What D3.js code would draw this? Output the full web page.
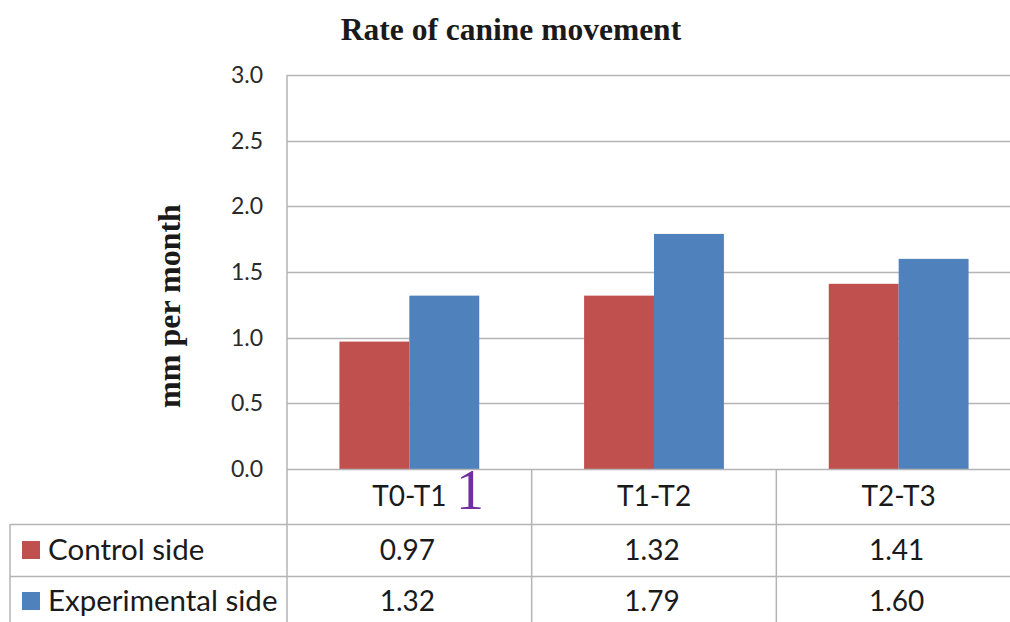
<!DOCTYPE html>
<html>
<head>
<meta charset="utf-8">
<script src="https://cdn.jsdelivr.net/npm/d3@7"></script>
<style>
  body { margin: 0; background: #fff; }
  svg { display: block; }
</style>
</head>
<body>
<svg id="chart" width="1010" height="622"></svg>
<script>
// Rate of canine movement (mm per month), control vs experimental side
const categories = ["T0-T1", "T1-T2", "T2-T3"];
const seriesNames = ["Control side", "Experimental side"];
const controlValues = [0.97, 1.32, 1.41];
const experimentalValues = [1.32, 1.79, 1.60];
const yTicks = [0, 0.5, 1.0, 1.5, 2.0, 2.5, 3.0];
const seriesColors = ["#C0504D", "#4F81BD"];

const series = [controlValues, experimentalValues];

const W = 1010, H = 622;
const plot = { left: 287, right: 1021, top: 75, bottom: 469 };
const table = { left: 10, header: 469, row1: 524, row2: 576, bottom: H };

const sansFont = "Lato, 'Open Sans', sans-serif";
const serifFont = "'Liberation Serif', 'DejaVu Serif', serif";
const gridColor = "#b4b4b4";
const textColor = "#1a1a1a";

const svg = d3.select("#chart");

const x = d3.scaleBand().domain(categories).range([plot.left, plot.right]);
const xInner = d3.scaleBand()
  .domain(seriesNames)
  .range([0, x.bandwidth()])
  .paddingInner(0)
  .paddingOuter(0.75);
const y = d3.scaleLinear().domain([0, 3]).range([plot.bottom, plot.top]);

// Title
svg.append("text")
  .attr("x", 511).attr("y", 40)
  .attr("text-anchor", "middle")
  .attr("font-family", serifFont)
  .attr("font-weight", "bold")
  .attr("font-size", 31.5)
  .attr("fill", textColor)
  .text("Rate of canine movement");

// Horizontal gridlines
svg.append("g")
  .selectAll("line")
  .data(yTicks.filter(d => d > 0))
  .join("line")
  .attr("x1", plot.left).attr("x2", W)
  .attr("y1", d => Math.round(y(d)) + 0.5)
  .attr("y2", d => Math.round(y(d)) + 0.5)
  .attr("stroke", gridColor)
  .attr("stroke-width", 1.5);

// Y axis with tick labels
const yAxis = d3.axisLeft(y)
  .tickValues(yTicks)
  .tickFormat(d3.format(".1f"))
  .tickSize(0)
  .tickPadding(24);

const yAxisG = svg.append("g")
  .attr("transform", `translate(${plot.left},0)`)
  .call(yAxis);
yAxisG.select(".domain").remove();
yAxisG.selectAll("text")
  .attr("font-family", sansFont)
  .attr("font-size", 23)
  .attr("fill", "#2a2a2a");

// Y axis title
svg.append("text")
  .attr("transform", "translate(180,306) rotate(-90)")
  .attr("text-anchor", "middle")
  .attr("font-family", serifFont)
  .attr("font-weight", "bold")
  .attr("font-size", 32)
  .attr("fill", textColor)
  .text("mm per month");

// Bars
const groups = svg.append("g")
  .selectAll("g")
  .data(categories)
  .join("g")
  .attr("transform", d => `translate(${x(d)},0)`);

groups.selectAll("rect")
  .data((d, i) => seriesNames.map((s, k) => ({ s, k, v: series[k][i] })))
  .join("rect")
  .attr("x", d => xInner(d.s))
  .attr("width", xInner.bandwidth())
  .attr("y", d => y(d.v))
  .attr("height", d => y(0) - y(d.v))
  .attr("fill", d => seriesColors[d.k]);

// Data table lines
const lines = svg.append("g")
  .attr("stroke", gridColor)
  .attr("stroke-width", 1.5)
  .attr("fill", "none");

// left value axis line continuing down through the table
lines.append("line")
  .attr("x1", plot.left).attr("x2", plot.left)
  .attr("y1", plot.top).attr("y2", table.bottom);
// table top / category row
lines.append("line")
  .attr("x1", plot.left).attr("x2", W)
  .attr("y1", table.header + 0.5).attr("y2", table.header + 0.5);
[table.row1, table.row2].forEach(yy => {
  lines.append("line")
    .attr("x1", table.left).attr("x2", W)
    .attr("y1", yy + 0.5).attr("y2", yy + 0.5);
});
lines.append("line")
  .attr("x1", table.left).attr("x2", table.left)
  .attr("y1", table.row1).attr("y2", table.bottom);
categories.slice(1).forEach(c => {
  lines.append("line")
    .attr("x1", x(c)).attr("x2", x(c))
    .attr("y1", table.header).attr("y2", table.bottom);
});

// Category header labels
svg.append("g")
  .selectAll("text")
  .data(categories)
  .join("text")
  .attr("x", d => x(d) + x.bandwidth() / 2)
  .attr("y", (table.header + table.row1) / 2)
  .attr("dy", "0.35em")
  .attr("text-anchor", "middle")
  .attr("font-family", sansFont)
  .attr("font-size", 28)
  .attr("fill", textColor)
  .text(d => d);

// Table rows: legend key + values
const rowCenters = [(table.row1 + table.row2) / 2, (table.row2 + table.bottom) / 2 + 2];
seriesNames.forEach((name, k) => {
  const cy = rowCenters[k];
  svg.append("rect")
    .attr("x", 22).attr("y", cy - 9)
    .attr("width", 18).attr("height", 18)
    .attr("fill", seriesColors[k]);
  svg.append("text")
    .attr("x", 48).attr("y", cy)
    .attr("dy", "0.35em")
    .attr("font-family", sansFont)
    .attr("font-size", 29.5)
    .attr("fill", textColor)
    .text(name);
  svg.append("g")
    .selectAll("text")
    .data(categories)
    .join("text")
    .attr("x", d => x(d) + x.bandwidth() / 2 - 2)
    .attr("y", cy)
    .attr("dy", "0.35em")
    .attr("text-anchor", "middle")
    .attr("font-family", sansFont)
    .attr("font-size", 28)
    .attr("fill", textColor)
    .text((d, i) => series[k][i].toFixed(2));
});

// Figure panel mark
svg.append("text")
  .attr("x", 470).attr("y", 509)
  .attr("text-anchor", "middle")
  .attr("font-family", serifFont)
  .attr("font-size", 56)
  .attr("fill", "#7030A0")
  .text("1");
</script>
</body>
</html>
